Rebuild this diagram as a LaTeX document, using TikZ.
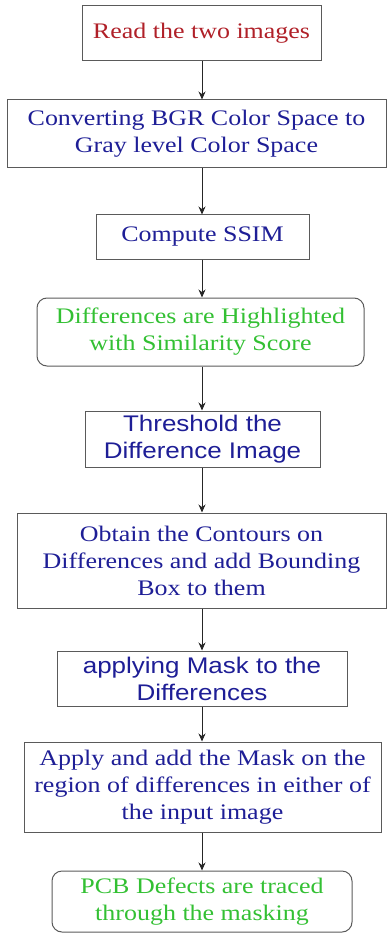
\documentclass[tikz,border=0pt]{standalone}
\usepackage{fontspec}
\setmainfont[FakeStretch=1.17]{Liberation Serif}
\newfontfamily\arialf[FakeStretch=1.15]{Liberation Sans}
\usetikzlibrary{arrows.meta}
\definecolor{tred}{HTML}{B02028}
\definecolor{tblue}{HTML}{1E1E96}
\definecolor{tgreen}{HTML}{33C033}
\definecolor{bord}{HTML}{5A5A5A}
\begin{document}
\begin{tikzpicture}[x=1pt,y=-1pt,
  box/.style={draw=bord,line width=1pt,rectangle,align=center,inner sep=0pt,
    font=\fontsize{22.2}{27}\selectfont,text=tblue},
  rbox/.style={box,rounded corners=10pt,text=tgreen},
  sbox/.style={box,font=\arialf\fontsize{22.6}{27}\selectfont},
  arr/.style={draw=black!85,line width=0.9pt,-{Stealth[length=8pt,width=7pt]}}]
\useasboundingbox (0,0) rectangle (387,933);
\node[box,text=tred,minimum width=239pt,minimum height=55pt] (b1) at (201.5,33.5) {Read the two images};
\node[box,minimum width=379pt,minimum height=68pt] (b2) at (196.5,134) {Converting BGR Color Space to\\Gray level Color Space};
\node[box,minimum width=213pt,minimum height=44pt] (b3) at (202.5,237) {Compute SSIM};
\node[rbox,minimum width=327pt,minimum height=68pt] (b4) at (200.5,332) {Differences are Highlighted\\with Similarity Score};
\node[sbox,minimum width=235pt,minimum height=56pt] (b5) at (202.5,439) {Threshold the\\Difference Image};
\node[box,minimum width=369pt,minimum height=95pt] (b6) at (201.5,560.5) {Obtain the Contours on\\Differences and add Bounding\\Box to them};
\node[sbox,minimum width=290pt,minimum height=55pt] (b7) at (202,678.5) {applying Mask to the\\Differences};
\node[box,minimum width=357pt,minimum height=90pt] (b8) at (202.5,787) {Apply and add the Mask on the\\region of differences in either of\\the input image};
\node[rbox,minimum width=300pt,minimum height=61pt] (b9) at (202,901.5) {PCB Defects are traced\\through the masking};
\coordinate (ax) at (202,0);
\foreach \a/\b in {b1/b2,b2/b3,b3/b4,b4/b5,b5/b6,b6/b7,b7/b8,b8/b9}
  \draw[arr] (\a.south -| ax) -- (\b.north -| ax);
\end{tikzpicture}
\end{document}
